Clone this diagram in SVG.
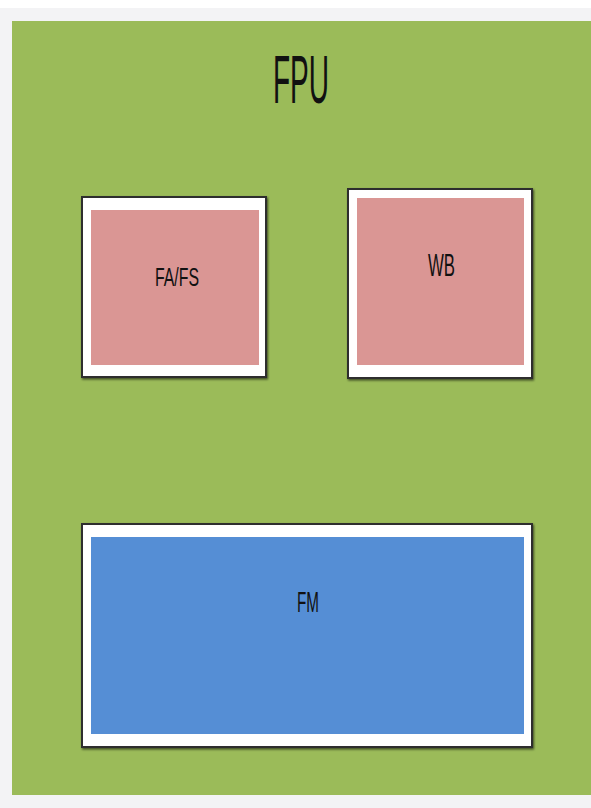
<svg xmlns="http://www.w3.org/2000/svg" width="591" height="808" viewBox="0 0 591 808">
<defs>
<filter id="sh" x="-5%" y="-5%" width="110%" height="110%">
<feDropShadow dx="1" dy="1.5" stdDeviation="0.8" flood-color="#000" flood-opacity="0.6"/>
</filter>
</defs>
<style>
.frame{fill:#ffffff;stroke:#2e2e2e;stroke-width:2;filter:url(#sh)}
.pink{fill:#DA9694}
.blue{fill:#558ED5}
.lbl{font-family:"Liberation Sans",Arial,sans-serif;fill:#111;text-anchor:middle}
</style>
<rect x="0" y="0" width="591" height="808" fill="#ffffff"/>
<rect x="0" y="8" width="591" height="800" fill="#f3f3f5"/>
<g id="fpu">
<rect x="12" y="21" width="579" height="774" fill="#9BBB59"/>
<text class="lbl" x="301" y="103" font-size="68" textLength="56" lengthAdjust="spacingAndGlyphs">FPU</text>
</g>
<g id="fafs">
<rect class="frame" x="82" y="197" width="184" height="180"/>
<rect class="pink" x="91" y="210" width="168" height="155"/>
<text class="lbl" x="177" y="286" font-size="25" textLength="44" lengthAdjust="spacingAndGlyphs">FA/FS</text>
</g>
<g id="wb">
<rect class="frame" x="348" y="189" width="184" height="189"/>
<rect class="pink" x="357" y="198" width="167" height="167"/>
<text class="lbl" x="441.5" y="276" font-size="31" textLength="27" lengthAdjust="spacingAndGlyphs">WB</text>
</g>
<g id="fm">
<rect class="frame" x="82" y="524" width="450" height="223"/>
<rect class="blue" x="91" y="537" width="433" height="197"/>
<text class="lbl" x="308" y="612" font-size="30" textLength="22" lengthAdjust="spacingAndGlyphs">FM</text>
</g>
<g id="connectors"></g>
</svg>
